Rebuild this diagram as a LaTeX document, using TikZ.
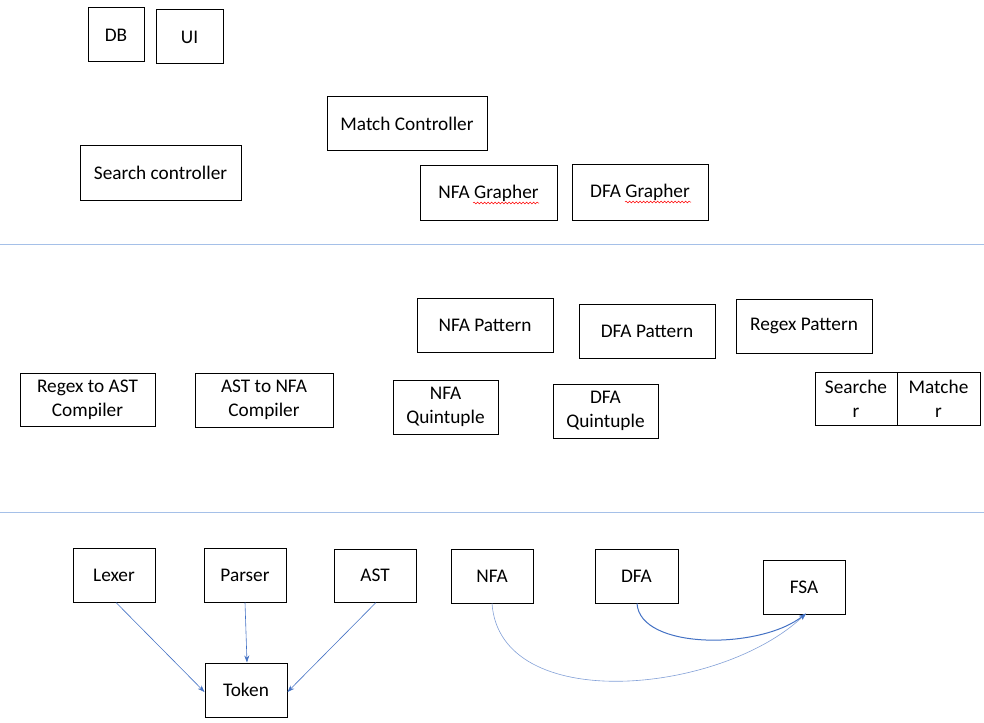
\documentclass[tikz,border=0pt]{standalone}
\usepackage{fontspec}
\setmainfont{Carlito}
\usetikzlibrary{arrows.meta,decorations.pathmorphing}
\definecolor{sepblue}{RGB}{165,192,232}
\definecolor{arrblue}{RGB}{68,114,196}
\definecolor{arrlight}{RGB}{130,160,215}
\tikzset{
  bx/.style={draw=black, line width=1pt, inner sep=0pt, align=center,
    font=\fontsize{19.3}{24}\selectfont},
  sep/.style={draw=sepblue, line width=1pt},
  conn/.style={draw=arrblue, line width=0.6pt, -{Stealth[length=7pt,width=5pt]}},
  wavy/.style={draw=red, line width=0.5pt, decorate,
    decoration={snake, segment length=3.5pt, amplitude=0.9pt}}
}
\begin{document}
\begin{tikzpicture}[x=1pt,y=-1pt]
\useasboundingbox (0,0) rectangle (984,722);
% separators
\coordinate (s1l) at (0,244); \coordinate (s1r) at (984,244);
\coordinate (s2l) at (0,512); \coordinate (s2r) at (984,512);
\draw[sep] (s1l) -- (s1r);
\draw[sep] (s2l) -- (s2r);
% top layer
\node[bx, minimum width=56pt, minimum height=54pt] (db) at (116,35) {DB};
\node[bx, minimum width=67pt, minimum height=54pt] (ui) at (189.5,37) {UI};
\node[bx, minimum width=160pt, minimum height=54pt] (mc) at (407,124) {Match Controller};
\node[bx, minimum width=161pt, minimum height=54pt] (sc) at (160.5,173) {Search controller};
\node[bx, minimum width=137pt, minimum height=54pt] (nfag) at (488.5,193) {NFA Grapher};
\node[bx, minimum width=136pt, minimum height=55pt] (dfag) at (640,192.5) {DFA Grapher};
\draw[wavy] (473,203) -- (539,203);
\draw[wavy] (625,202) -- (691,202);
% middle layer
\node[bx, minimum width=136pt, minimum height=54pt] (nfap) at (485,325) {NFA Pattern};
\node[bx, minimum width=136pt, minimum height=54pt] (dfap) at (647,331) {DFA Pattern};
\node[bx, minimum width=136pt, minimum height=54pt] (rxp) at (804,326) {Regex Pattern};
\node[bx, minimum width=135pt, minimum height=53pt] (r2a) at (87.5,399.5) {Regex to AST\\Compiler};
\node[bx, minimum width=138pt, minimum height=54pt] (a2n) at (264,400) {AST to NFA\\Compiler};
\node[bx, minimum width=105pt, minimum height=54pt] (nfaq) at (445.5,407) {NFA\\Quintuple};
\node[bx, minimum width=105pt, minimum height=54pt] (dfaq) at (605.5,411) {DFA\\Quintuple};
\node[bx, minimum width=82pt, minimum height=53pt] (srch) at (856,398.5) {Searche\\r};
\node[bx, minimum width=83pt, minimum height=53pt] (mtch) at (938.5,398.5) {Matche\\r};
% bottom layer
\node[bx, minimum width=82pt, minimum height=54pt] (lex) at (114,575) {Lexer};
\node[bx, minimum width=82pt, minimum height=54pt] (par) at (245,575) {Parser};
\node[bx, minimum width=82pt, minimum height=53pt] (ast) at (375,575.5) {AST};
\node[bx, minimum width=82pt, minimum height=54pt] (tok) at (246,690) {Token};
\node[bx, minimum width=82pt, minimum height=54pt] (nfa) at (492,576) {NFA};
\node[bx, minimum width=83pt, minimum height=54pt] (dfa) at (636.5,576) {DFA};
\node[bx, minimum width=82pt, minimum height=54pt] (fsa) at (804,587) {FSA};
% connectors
\draw[conn] ([xshift=2pt]lex.south) -- ([yshift=-2pt]tok.west);
\draw[conn] (par.south) -- ([xshift=1pt]tok.north);
\draw[conn] ([xshift=1pt]ast.south) -- ([yshift=-2pt]tok.east);
\draw[conn, draw=arrlight] (nfa.south) .. controls (500,715) and (720,695) .. ([xshift=2pt,yshift=1pt]fsa.south);
\draw[conn, line width=1pt] ([xshift=0.5pt]dfa.south) .. controls (640,650) and (760,650) .. ([xshift=2pt,yshift=1pt]fsa.south);
\end{tikzpicture}
\end{document}
